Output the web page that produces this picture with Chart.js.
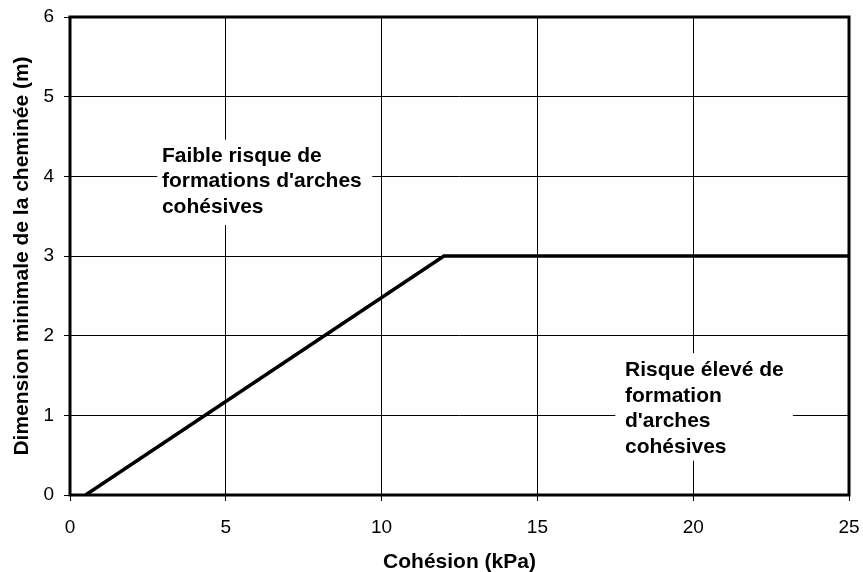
<!DOCTYPE html>
<html>
<head>
<meta charset="utf-8">
<script src="https://cdn.jsdelivr.net/npm/chart.js@4.4.1/dist/chart.umd.min.js"></script>
<style>
  html, body { margin: 0; padding: 0; background: #fff; }
  #wrap { width: 863px; height: 572px; }
</style>
</head>
<body>
<div id="wrap"><canvas id="chart" width="863" height="572"></canvas></div>
<script>
// limit curve
var cohesion = [0.5, 12, 25];
var dimension = [0, 3, 3];

var xTicks = [0, 5, 10, 15, 20, 25];
var yTicks = [0, 1, 2, 3, 4, 5, 6];

// text boxes: lines, box corners and first baseline in data units
var noteLow = ["Faible risque de", "formations d'arches", "cohésives"];
var noteLowBox = [2.8, 4.46, 9.7, 3.39];
var noteLowAt = [2.95, 4.18];
var noteHigh = ["Risque élevé de", "formation", "d'arches", "cohésives"];
var noteHighBox = [17.5, 1.78, 23.2, 0.43];
var noteHighAt = [17.81, 1.49];

var FONT = "'Liberation Sans', Arial, sans-serif";

var points = [];
for (var i = 0; i < cohesion.length; i++) {
    points.push({x: cohesion[i], y: dimension[i]});
}

// draws a white box and its lines of text
function drawNote(chart, lines, box, at) {
    var ctx = chart.ctx;
    var xs = chart.scales.x, ys = chart.scales.y;
    var x1 = xs.getPixelForValue(box[0]), y1 = ys.getPixelForValue(box[1]);
    var x2 = xs.getPixelForValue(box[2]), y2 = ys.getPixelForValue(box[3]);
    ctx.save();
    ctx.fillStyle = '#fff';
    ctx.fillRect(x1, y1, x2 - x1, y2 - y1);
    ctx.fillStyle = '#000';
    ctx.font = 'bold 21px ' + FONT;
    ctx.textBaseline = 'alphabetic';
    ctx.textAlign = 'left';
    var tx = xs.getPixelForValue(at[0]), ty = ys.getPixelForValue(at[1]);
    for (var k = 0; k < lines.length; k++) {
        ctx.fillText(lines[k], tx, ty + k * 25.5);
    }
    ctx.restore();
}

var framePlugin = {
    id: 'frame',
    beforeDatasetsDraw: function(chart) {
        drawNote(chart, noteLow, noteLowBox, noteLowAt);
        drawNote(chart, noteHigh, noteHighBox, noteHighAt);
    },
    afterDraw: function(chart) {
        var a = chart.chartArea;
        var ctx = chart.ctx;
        ctx.save();
        ctx.strokeStyle = '#000';
        ctx.lineWidth = 3;
        ctx.strokeRect(a.left, a.top, a.right - a.left, a.bottom - a.top);
        ctx.restore();
    }
};

new Chart(document.getElementById('chart').getContext('2d'), {
    type: 'scatter',
    data: {
        datasets: [{
            data: points,
            showLine: true,
            borderColor: '#000',
            borderWidth: 3.5,
            pointRadius: 0,
            fill: false
        }]
    },
    options: {
        responsive: false,
        animation: false,
        layout: { padding: { left: 0, top: 17, right: 14, bottom: 0 } },
        plugins: { legend: { display: false }, tooltip: { enabled: false } },
        scales: {
            x: {
                type: 'linear',
                min: 0, max: 25,
                afterFit: function(s) { s.height = 77; s.paddingLeft = 0; s.paddingRight = 0; },
                afterBuildTicks: function(s) { s.ticks = xTicks.map(function(v) { return {value: v}; }); },
                grid: { color: '#000', lineWidth: 1, tickLength: 6, tickColor: '#000' },
                border: { display: false },
                ticks: { color: '#000', font: { family: FONT, size: 19 }, padding: 15, maxRotation: 0 },
                title: { display: true, text: 'Cohésion (kPa)', color: '#000',
                         font: { family: FONT, size: 21, weight: 'bold' }, padding: { top: 0, bottom: -3 } }
            },
            y: {
                type: 'linear',
                min: 0, max: 6,
                afterFit: function(s) { s.width = 70; s.paddingTop = 0; s.paddingBottom = 0; },
                afterBuildTicks: function(s) { s.ticks = yTicks.map(function(v) { return {value: v}; }); },
                grid: { color: '#000', lineWidth: 1, tickLength: 6, tickColor: '#000' },
                border: { display: false },
                ticks: { color: '#000', font: { family: FONT, size: 19 }, padding: 10 },
                title: { display: true, text: 'Dimension minimale de la cheminée (m)', color: '#000',
                         font: { family: FONT, size: 21, weight: 'bold' }, padding: { top: 10, bottom: 0 } }
            }
        }
    },
    plugins: [framePlugin]
});
</script>
</body>
</html>
